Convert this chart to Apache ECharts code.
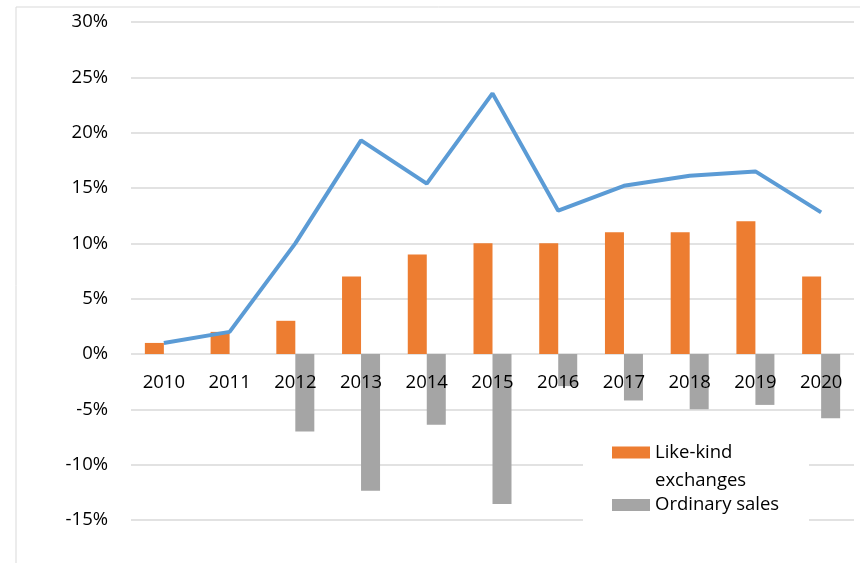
<!DOCTYPE html>
<html>
<head>
<meta charset="utf-8">
<script src="https://cdn.jsdelivr.net/npm/echarts@6/dist/echarts.min.js"></script>
<style>html,body{margin:0;padding:0;background:#fff}#c{width:860px;height:563px}</style>
</head>
<body>
<div id="c"></div>
<script>
const categories = ['2010','2011','2012','2013','2014','2015','2016','2017','2018','2019','2020'];
const likeKind = [1, 2, 3, 7, 9, 10, 10, 11, 11, 12, 7];
const ordinary = [0, 0, -7, -12.35, -6.4, -13.55, -2.9, -4.2, -5.0, -4.6, -5.8];
const total = [1, 2, 10, 19.3, 15.4, 23.55, 12.95, 15.2, 16.1, 16.5, 12.8];
const yTicks = { min: -15, max: 30, interval: 5 };

const FONT = 'Open Sans';
const FS = 18.5;
const GRID = { left: 131, right: 6, top: 22, bottom: 43 };
const gridH = 563 - GRID.top - GRID.bottom;
// place category axis on the zero line (distance from the bottom of the grid)
const zeroOffset = -gridH * (0 - yTicks.min) / (yTicks.max - yTicks.min);

const chart = echarts.init(document.getElementById('c'), null, { renderer: 'canvas' });
chart.setOption({
  animation: false,
  backgroundColor: '#fff',
  textStyle: { fontFamily: FONT },
  graphic: [
    { type: 'rect', z: -1, shape: { x: 16, y: 7, width: 900, height: 600 },
      style: { fill: 'none', stroke: '#d9d9d9', lineWidth: 1 } },
    { type: 'rect', z: 1, shape: { x: 583, y: 428, width: 226, height: 150 },
      style: { fill: '#fff' } }
  ],
  grid: Object.assign({ containLabel: false }, GRID),
  legend: {
    data: ['Like-kind exchanges', 'Ordinary sales'],
    orient: 'vertical',
    left: 612, top: 415,
    padding: 0,
    itemWidth: 38, itemHeight: 12, itemGap: 1,
    icon: 'rect',
    selectedMode: false,
    formatter: function (name) {
      return name === 'Like-kind exchanges' ? '{a|Like-kind\nexchanges}' : '{b|' + name + '}';
    },
    textStyle: {
      fontFamily: FONT, fontSize: FS, color: '#000', lineHeight: 28,
      rich: {
        a: { fontFamily: FONT, fontSize: FS, color: '#000', lineHeight: 28, padding: [28, 0, 0, 0] },
        b: { fontFamily: FONT, fontSize: FS, color: '#000', lineHeight: 28 }
      }
    }
  },
  xAxis: {
    type: 'category',
    data: categories,
    offset: zeroOffset,
    z: 5,
    axisLine: { show: false, onZero: false },
    axisTick: { show: false },
    axisLabel: { fontFamily: FONT, fontSize: FS, color: '#000', margin: 19 },
    splitLine: { show: false }
  },
  yAxis: {
    type: 'value',
    min: yTicks.min, max: yTicks.max, interval: yTicks.interval,
    axisLine: { show: false },
    axisTick: { show: false },
    axisLabel: { fontFamily: FONT, fontSize: FS, color: '#000', margin: 23,
      formatter: v => v + '%' },
    splitLine: { lineStyle: { color: '#d9d9d9', width: 1.5 } }
  },
  series: [
    { name: 'Like-kind exchanges', type: 'bar', data: likeKind, barWidth: 19, barGap: '0%',
      itemStyle: { color: '#ED7D31' } },
    { name: 'Ordinary sales', type: 'bar', data: ordinary, barWidth: 19, barGap: '0%',
      itemStyle: { color: '#A5A5A5' } },
    { name: 'Total', type: 'line', data: total, showSymbol: false, symbol: 'none',
      lineStyle: { color: '#5B9BD5', width: 4 }, itemStyle: { color: '#5B9BD5' }, z: 3 }
  ]
});
</script>
</body>
</html>
